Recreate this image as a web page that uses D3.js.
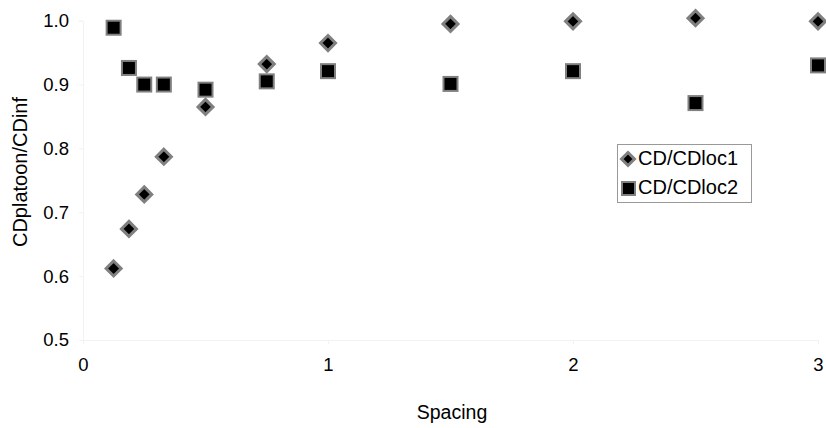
<!DOCTYPE html>
<html><head><meta charset="utf-8">
<script src="https://cdn.jsdelivr.net/npm/d3@7"></script>
<style>body{margin:0;background:#fff}svg{display:block}text{font-family:"Liberation Sans",Arial,sans-serif;fill:#000}</style>
</head><body>
<script>
const spacing = [0.125, 0.1875, 0.25, 0.33, 0.5, 0.75, 1.0, 1.5, 2.0, 2.5, 3.0];
const cdLoc1 = [0.612, 0.674, 0.728, 0.787, 0.865, 0.932, 0.965, 0.995, 0.999, 1.004, 0.999];
const cdLoc2 = [0.989, 0.926, 0.900, 0.900, 0.892, 0.905, 0.921, 0.901, 0.921, 0.871, 0.930];
const xTicks = [0, 1, 2, 3];
const yTicks = [0.5, 0.6, 0.7, 0.8, 0.9, 1.0];
const seriesNames = ["CD/CDloc1", "CD/CDloc2"];

const W = 826, H = 428;
const svg = d3.select("body").append("svg").attr("width", W).attr("height", H);
const x = d3.scaleLinear().domain([0, 3]).range([83, 818]);
const y = d3.scaleLinear().domain([0.5, 1.0]).range([340, 20.7]);

// faint axes
const gx = svg.append("g").attr("transform", `translate(0,${y(0.5)})`)
  .call(d3.axisBottom(x).tickValues(xTicks).tickFormat(d3.format("d")).tickSize(4).tickPadding(14));
const gy = svg.append("g").attr("transform", `translate(${x(0)},0)`)
  .call(d3.axisLeft(y).tickValues(yTicks).tickFormat(d3.format(".1f")).tickSize(4).tickPadding(10));
[gx, gy].forEach(g => {
  g.selectAll("path,line").attr("stroke", "#f2f2f2");
  g.selectAll("text").style("font-size", "18.5px").attr("fill", "#000");
});

// series 1 diamonds
const diamond = s => `M0,${-s}L${s},0L0,${s}L${-s},0Z`;
svg.append("g").selectAll("path").data(spacing).join("path")
  .attr("d", diamond(7.5))
  .attr("transform", (d, i) => `translate(${x(d)},${y(cdLoc1[i])})`)
  .attr("fill", "#000").attr("stroke", "#808080").attr("stroke-width", 3);

// series 2 squares
svg.append("g").selectAll("rect").data(spacing).join("rect")
  .attr("x", d => x(d) - 7).attr("width", 14)
  .attr("y", (d, i) => y(cdLoc2[i]) - 7).attr("height", 14)
  .attr("fill", "#000").attr("stroke", "#808080").attr("stroke-width", 2);

// axis titles
svg.append("text").attr("x", 452).attr("y", 419).attr("text-anchor", "middle")
  .style("font-size", "19.5px").text("Spacing");
svg.append("text").attr("transform", "translate(27,172) rotate(-90)").attr("text-anchor", "middle")
  .style("font-size", "20px").text("CDplatoon/CDinf");

// legend
const lg = svg.append("g");
lg.append("rect").attr("x", 617.5).attr("y", 144.5).attr("width", 134).attr("height", 58)
  .attr("fill", "#fff").attr("stroke", "#999").attr("stroke-width", 1);
lg.append("path").attr("d", diamond(6.5)).attr("transform", "translate(628,159)")
  .attr("fill", "#000").attr("stroke", "#808080").attr("stroke-width", 3);
lg.append("rect").attr("x", 622).attr("y", 182).attr("width", 13).attr("height", 13)
  .attr("fill", "#000").attr("stroke", "#808080").attr("stroke-width", 2);
lg.selectAll("text").data(seriesNames).join("text")
  .attr("x", 638).attr("y", (d, i) => 165 + i * 29)
  .style("font-size", "20px").text(d => d);
</script>
</body></html>
